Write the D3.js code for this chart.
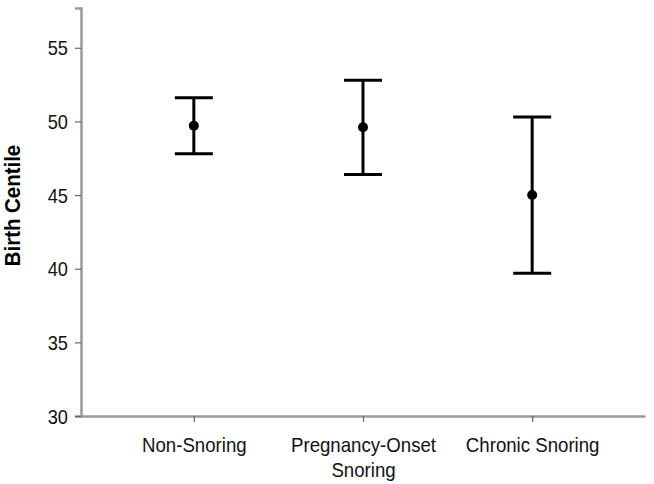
<!DOCTYPE html>
<html>
<head>
<meta charset="utf-8">
<script src="https://cdn.jsdelivr.net/npm/d3@7"></script>
<style>
  body { margin: 0; background: #fff; }
  text { font-family: "Liberation Sans", Arial, sans-serif; }
</style>
</head>
<body>
<div id="graf"></div>
<script>
// datos
grupos = ['Non-Snoring', 'Pregnancy-Onset Snoring', 'Chronic Snoring']
etiquetas = [['Non-Snoring'], ['Pregnancy-Onset', 'Snoring'], ['Chronic Snoring']]
medias = [49.7, 49.6, 45.0]
inferior = [47.8, 46.4, 39.7]
superior = [51.6, 52.8, 50.3]
ticks_y = [30, 35, 40, 45, 50, 55]

ancho_total = 654
alto_total = 484
margins = { top: 8, left: 81, right: 9, bottom: 68 }
ancho = ancho_total - margins.left - margins.right
alto = alto_total - margins.top - margins.bottom

svg = d3.select('#graf').append('svg')
        .attr('width', ancho_total)
        .attr('height', alto_total)

g = svg.append('g')
        .attr('transform', `translate(${margins.left}, ${margins.top})`)

x = d3.scalePoint().domain(grupos).range([0, ancho]).padding(0.667)
y = d3.scaleLinear().domain([30, 57.7]).range([alto, 0])

gris = '#9a9a9a'
estrecho = 'scale(0.91, 1)'

// eje Y
ejeY = g.append('g')
        .call(d3.axisLeft(y).tickValues(ticks_y).tickSize(6))
ejeY.select('.domain').attr('stroke', gris).attr('stroke-width', 2.5)
ejeY.selectAll('.tick line').attr('stroke', '#666').attr('stroke-width', 1.2)
ejeY.selectAll('.tick text')
        .attr('x', 0)
        .attr('dy', '0.36em')
        .attr('transform', 'translate(-13, 0) ' + estrecho)
        .attr('font-size', 20).attr('fill', '#111')
        .attr('font-family', '"Liberation Sans", Arial, sans-serif')

// eje X
ejeX = g.append('g')
        .attr('transform', `translate(0, ${alto})`)
        .call(d3.axisBottom(x).tickSize(6).tickSizeOuter(0).tickFormat(''))
ejeX.select('.domain').attr('stroke', gris).attr('stroke-width', 2.5)
ejeX.selectAll('.tick line').attr('stroke', '#666').attr('stroke-width', 1.2)

ejeX.selectAll('.tick').each(function (d, i) {
        t = d3.select(this).append('text')
                .attr('text-anchor', 'middle')
                .attr('transform', estrecho)
                .attr('fill', '#111')
                .attr('font-size', 20.5)
                .attr('font-family', '"Liberation Sans", Arial, sans-serif')
        etiquetas[i].forEach((l, j) => {
                t.append('tspan').attr('x', 0).attr('y', 36 + j * 25).text(l)
        })
})

// titulo eje Y
svg.append('text')
        .attr('transform', `translate(19.5, 205.5) rotate(-90) scale(0.95, 1)`)
        .attr('text-anchor', 'middle')
        .attr('font-size', 21.5)
        .attr('font-weight', 'bold')
        .attr('fill', '#000')
        .text('Birth Centile')

// barras de error
datos = grupos.map((d, i) => ({ grupo: d, media: medias[i], lo: inferior[i], hi: superior[i] }))
cap = 19

barras = g.selectAll('.barra').data(datos).enter().append('g')
barras.append('line')
        .attr('x1', d => x(d.grupo)).attr('x2', d => x(d.grupo))
        .attr('y1', d => y(d.lo)).attr('y2', d => y(d.hi))
        .attr('stroke', '#000').attr('stroke-width', 3)
barras.append('line')
        .attr('x1', d => x(d.grupo) - cap).attr('x2', d => x(d.grupo) + cap)
        .attr('y1', d => y(d.hi)).attr('y2', d => y(d.hi))
        .attr('stroke', '#000').attr('stroke-width', 3)
barras.append('line')
        .attr('x1', d => x(d.grupo) - cap).attr('x2', d => x(d.grupo) + cap)
        .attr('y1', d => y(d.lo)).attr('y2', d => y(d.lo))
        .attr('stroke', '#000').attr('stroke-width', 3)
barras.append('circle')
        .attr('cx', d => x(d.grupo)).attr('cy', d => y(d.media))
        .attr('r', 5).attr('fill', '#000')
</script>
</body>
</html>
